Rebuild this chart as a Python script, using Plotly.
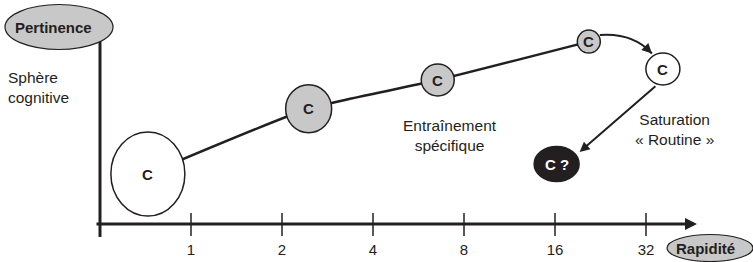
import numpy as np
import plotly.graph_objects as go

# ---------------- data ----------------
tick_values = [0.5, 1, 2, 4, 8, 16, 32]
tick_labels = ["", "1", "2", "4", "8", "16", "32"]

bubble_rapidite = [0.72, 2.45, 6.55, 20.7, 36.4, 16.2]
bubble_pertinence = [25.0, 57.6, 72.0, 91.2, 77.5, 30.0]
bubble_labels = ["C", "C", "C", "C", "C", "C ?"]
curve_members = [0, 1, 2, 3]          # bubbles joined by the training curve

phase_labels = ["Entraînement<br>spécifique", "Saturation<br>« Routine »"]
phase_rapidite = [7.2, 39.8]
phase_pertinence = [44.3, 47.5]

x_title = "Rapidité"
y_title = "Pertinence"
y_note = "Sphère<br>cognitive"

# ---------------- styles ----------------
bubble_w = [74, 46, 33, 23, 34, 45]
bubble_h = [84, 48, 32, 23, 32, 35]
bubble_fill = ["white", "#c8c8c8", "#c8c8c8", "#c8c8c8", "white", "#231f20"]
bubble_text = ["#231f20"] * 5 + ["white"]
INK = "#231f20"
FONT = "Liberation Sans, Arial, sans-serif"

W, H = 753, 262
PXX = 91.0      # pixels per doubling
PXY = 2.0       # pixels per pertinence unit
X0PX, Y0PX = 100.0, 224.0   # pixel of origin (rapidité 0.5, pertinence 0)


def dx(px):
    return px / PXX


def dy(px):
    return px / PXY


xr = [-1 - X0PX / PXX, -1 + (W - X0PX) / PXX]
yr = [-(H - Y0PX) / PXY, Y0PX / PXY]

bx = np.log2(bubble_rapidite)
by = np.array(bubble_pertinence)

fig = go.Figure()

# training curve
fig.add_trace(go.Scatter(
    x=bx[curve_members], y=by[curve_members], mode="lines",
    line=dict(color=INK, width=2.5, shape="spline", smoothing=0.5),
    hoverinfo="skip", showlegend=False))

shapes = []
annotations = []

# bubbles
for i in range(len(bx)):
    shapes.append(dict(
        type="circle", xref="x", yref="y", xsizemode="pixel", ysizemode="pixel",
        xanchor=bx[i], yanchor=by[i],
        x0=-bubble_w[i] / 2, x1=bubble_w[i] / 2, y0=-bubble_h[i] / 2, y1=bubble_h[i] / 2,
        fillcolor=bubble_fill[i], line=dict(color=INK, width=1.5), layer="above"))
    annotations.append(dict(
        x=bx[i], y=by[i], xref="x", yref="y", text="<b>%s</b>" % bubble_labels[i],
        showarrow=False, font=dict(family=FONT, size=15, color=bubble_text[i])))

# curved arrow bubble 3 -> bubble 4
sx, sy = bx[3] + dx(11), by[3] + dy(6.5)
ex, ey = bx[4] - dx(11), by[4] + dy(15.5)
cx, cy = bx[3] + dx(44), by[3] + dy(9)
shapes.append(dict(type="path", xref="x", yref="y",
                   path="M %f,%f Q %f,%f %f,%f" % (sx, sy, cx, cy, ex, ey),
                   line=dict(color=INK, width=2), layer="above"))
annotations.append(dict(x=ex, y=ey, xref="x", yref="y", ax=-6, ay=-6,
                        showarrow=True, arrowhead=2, arrowsize=1, arrowwidth=2,
                        arrowcolor=INK, text=""))

# straight arrow bubble 4 -> bubble 5
annotations.append(dict(
    x=bx[5] + dx(23), y=by[5] + dy(12), xref="x", yref="y",
    ax=bx[4] - dx(6), ay=by[4] - dy(16), axref="x", ayref="y",
    showarrow=True, arrowhead=2, arrowsize=1, arrowwidth=2, arrowcolor=INK, text=""))

# axes drawn by hand
annotations.append(dict(
    x=xr[0] + dx(697), y=0, xref="x", yref="y",
    ax=xr[0] + dx(95), ay=0, axref="x", ayref="y",
    showarrow=True, arrowhead=2, arrowsize=0.8, arrowwidth=3, arrowcolor=INK, text=""))
shapes.append(dict(type="line", xref="x", yref="y", x0=-1, x1=-1,
                   y0=-dy(13), y1=dy(184), line=dict(color=INK, width=3)))
for tv in tick_values[1:]:
    shapes.append(dict(type="line", xref="x", yref="y", x0=np.log2(tv), x1=np.log2(tv),
                       y0=-dy(12), y1=dy(11), line=dict(color=INK, width=1.5)))

# axis titles in ellipses
shapes.append(dict(type="circle", xref="x", yref="y", xsizemode="pixel", ysizemode="pixel",
                   xanchor=xr[0] + dx(59), yanchor=dy(224 - 27),
                   x0=-54, x1=54, y0=-22.5, y1=22.5,
                   fillcolor="#c8c8c8", line=dict(color=INK, width=1.2)))
annotations.append(dict(x=xr[0] + dx(53), y=dy(224 - 27), xref="x", yref="y",
                        text="<b>%s</b>" % y_title, showarrow=False,
                        font=dict(family=FONT, size=15, color=INK)))
shapes.append(dict(type="circle", xref="x", yref="y", xsizemode="pixel", ysizemode="pixel",
                   xanchor=xr[0] + dx(710), yanchor=-dy(24),
                   x0=-43, x1=43, y0=-13.5, y1=13.5,
                   fillcolor="#c8c8c8", line=dict(color=INK, width=1.2)))
annotations.append(dict(x=xr[0] + dx(705), y=-dy(24), xref="x", yref="y",
                        text="<b>%s</b>" % x_title, showarrow=False,
                        font=dict(family=FONT, size=15, color=INK)))

annotations.append(dict(x=xr[0] + dx(6), y=dy(224 - 87.5), xref="x", yref="y",
                        text=y_note, showarrow=False, xanchor="left", align="left",
                        font=dict(family=FONT, size=15.5, color=INK)))

for t, r, p in zip(phase_labels, phase_rapidite, phase_pertinence):
    annotations.append(dict(x=np.log2(r), y=p, xref="x", yref="y", text=t,
                            showarrow=False, align="center",
                            font=dict(family=FONT, size=15.5, color=INK)))

fig.update_layout(
    width=W, height=H, margin=dict(l=0, r=0, t=0, b=0, pad=0),
    paper_bgcolor="white", plot_bgcolor="white",
    shapes=shapes, annotations=annotations, showlegend=False,
    xaxis=dict(range=xr, showgrid=False, zeroline=False, showline=False,
               tickmode="array", tickvals=list(np.log2(tick_values)), ticktext=tick_labels,
               ticks="outside", ticklen=12, tickcolor="rgba(0,0,0,0)",
               anchor="free", position=(-yr[0]) / (yr[1] - yr[0]),
               tickfont=dict(family=FONT, size=15, color=INK), fixedrange=True),
    yaxis=dict(range=yr, showgrid=False, zeroline=False, showline=False,
               showticklabels=False, ticks="", fixedrange=True),
)

fig.write_html("out.html", config={"displayModeBar": False},
               post_script="document.body.style.margin='0';document.body.style.overflow='hidden';")
